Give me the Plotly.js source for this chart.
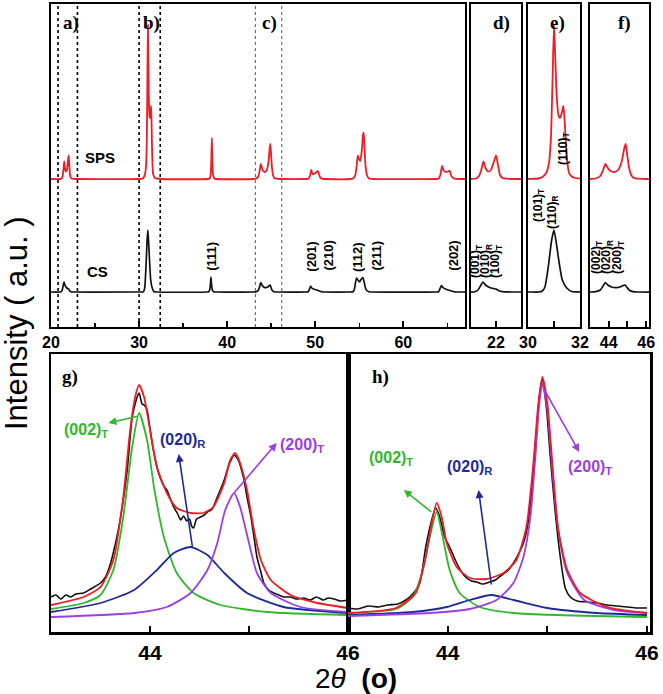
<!DOCTYPE html>
<html><head><meta charset="utf-8">
<script src="https://cdn.plot.ly/plotly-3.0.1.min.js"></script>
<style>html,body{margin:0;padding:0;background:#fff}</style>
</head><body>
<div id="plot" style="width:663px;height:694px"></div>
<script>
// ---------- Top panels: full-range XRD patterns (2theta in degrees, intensity a.u.) ----------
const spsX = [20,21,21.2,21.32,21.42,21.5,21.58,21.68,21.8,21.9,22,22.08,22.16,22.26,22.4,23,
  30,30.4,30.55,30.7,30.8,30.88,30.94,31,31.05,31.1,31.17,31.23,31.3,31.36,31.41,31.46,31.52,31.58,31.66,31.8,32,32.5,
  37.8,38,38.12,38.2,38.26,38.32,38.4,38.55,38.8,
  43,43.3,43.55,43.7,43.82,43.95,44.1,44.3,44.5,44.7,44.82,44.9,44.98,45.08,45.2,45.35,45.6,46,
  49,49.2,49.4,49.55,49.7,49.85,50.1,50.3,50.45,50.6,50.8,51.2,
  54,54.3,54.55,54.72,54.84,54.96,55.1,55.28,55.42,55.5,55.6,55.72,55.9,56.1,56.5,
  63.7,64,64.2,64.4,64.55,64.8,65.05,65.24,65.45,65.7,66,67];
const spsI = [0,0,0.5,3,10,17.5,11,7.5,9,16,23.5,14,4,1,0.3,0,
  0,0.5,2,6,15,40,95,154,120,85,64,61,66,73,58,35,15,6,3,1,0.5,0,
  0,0.5,4,18,41,18,4,0.5,0,
  0,0.5,3,9,15,11,8,7,9,18,30,35,25,12,4,1,0.3,0,
  0,0.3,3,9,5,5,6.5,8,4,1,0.2,0,
  0,0.5,4,15,23.5,20,18,28,44,46.5,30,12,3,0.5,0,
  0,0.3,4,13,9,7,7.5,8.3,3,0.8,0.2,0];

const csX = [20,21.15,21.28,21.4,21.48,21.58,21.7,21.8,21.92,22,22.1,22.25,22.6,
  30.2,30.4,30.55,30.65,30.78,30.91,31,31.1,31.2,31.32,31.49,31.68,32,
  37.7,37.9,38.02,38.1,38.16,38.22,38.32,38.45,38.7,
  43,43.3,43.55,43.7,43.82,43.95,44.15,44.4,44.6,44.78,44.87,44.98,45.12,45.3,45.6,
  49,49.2,49.35,49.48,49.6,49.8,50.1,50.4,50.7,51,
  54,54.3,54.45,54.58,54.7,54.85,55.03,55.2,55.4,55.55,55.7,55.85,56.1,56.5,
  63.7,64,64.15,64.32,64.5,64.8,65.1,65.45,65.8,66.2,67];
const csI = [0,0.2,2,7,10,7,5,4,3.3,3,1.5,0.3,0,
  0,0,1,5,25,52,62,47,29,12,4,0.5,0,
  0,0.3,2,8,15,8,2,0.3,0,
  0,0.3,2,6,9.4,7,5,4.3,5,6.5,7,4.5,1.5,0.3,0,
  0,0.3,3,6,4,3,2.2,1.2,0.3,0,
  0,0.3,3,10,14,12,10,12.5,14.5,10,4,1.5,0.3,0,
  0,0.3,3,6.3,4.3,3,2,1,0.2,0,0];

const csOffset = 35, spsOffset = 148;

// ---------- Bottom panels: peak fitting, 2theta 43-46 ----------
// g) CS
const gExpX = [43.0,43.05,43.1,43.15,43.2,43.25,43.33,43.4,43.5,43.55,43.6,43.65,43.68,43.72,43.77,43.82,43.85,43.87,43.89,43.92,43.94,43.97,43.99,44.02,44.04,44.07,44.1,44.14,44.17,44.21,44.24,44.28,44.31,44.34,44.37,44.4,44.42,44.44,44.47,44.51,44.55,44.58,44.62,44.64,44.68,44.71,44.75,44.78,44.81,44.85,44.88,44.9,44.93,44.95,44.98,45.02,45.05,45.08,45.12,45.15,45.2,45.25,45.3,45.35,45.42,45.48,45.55,45.62,45.68,45.75,45.8,45.86,45.92,46.0];
const gExpI = [35,37,33,37,35,38,39,43,49,55,68,88,102,125,162,215,228,235,239,228,227,222,210,190,179,165,155,146,142,132,125,118,112,116,111,113,106,104,113,115,117,120,122,125,135,142,152,162,170,177,174,170,160,152,135,115,95,75,60,49,42,39,37,35,35,33,34,32,35,32,34,33,31,32];
const gFitX = [43.0,43.33,43.5,43.63,43.73,43.8,43.85,43.89,43.94,44.0,44.07,44.17,44.27,44.41,44.54,44.64,44.75,44.81,44.86,44.91,44.98,45.05,45.12,45.22,45.42,45.69,46.0];
const gFitI = [27,35,45,72,135,202,235,247,235,202,165,139,124,119,119,125,149,172,179,169,142,102,72,52,37,29,24];
const g002X = [43.0,43.33,43.5,43.63,43.73,43.82,43.89,43.97,44.04,44.14,44.27,44.44,44.71,45.18,46.0];
const g002I = [23,29,37,62,115,185,219,192,145,95,59,39,27,20,17];
const g020X = [43.0,43.5,43.84,44.07,44.24,44.41,44.58,44.75,44.98,45.35,46.0];
const g020I = [20,29,42,62,79,85,77,59,39,25,19];
const g200X = [43.0,43.84,44.17,44.41,44.58,44.68,44.76,44.85,44.91,45.0,45.08,45.22,45.52,46.0];
const g200I = [15,19,25,39,62,89,122,139,125,89,59,39,25,20];

// h) SPS
const hExpX = [43.0,43.1,43.2,43.31,43.4,43.5,43.58,43.65,43.72,43.78,43.84,43.88,43.92,43.97,44.02,44.09,44.14,44.19,44.24,44.29,44.35,44.42,44.48,44.53,44.6,44.66,44.72,44.76,44.8,44.83,44.88,44.92,44.95,44.99,45.03,45.08,45.13,45.18,45.23,45.3,45.4,45.5,45.6,45.7,45.8,45.9,46.0];
const hExpI = [24,23,26,25,27,28,32,38,49,85,112,124,115,95,85,69,60,54,51,50,48,50,52,56,61,69,80,89,105,129,185,235,252,225,175,119,75,44,35,31,30,29,27,26,25,24,24];
const hFitX = [43.0,43.48,43.68,43.78,43.84,43.89,43.94,43.99,44.09,44.22,44.39,44.56,44.69,44.79,44.86,44.91,44.95,45.0,45.05,45.11,45.2,45.33,45.6,46.0];
const hFitI = [19,24,39,75,109,129,115,89,65,54,53,59,72,105,169,229,255,229,169,102,62,39,25,19];
const h002X = [43.0,43.48,43.65,43.75,43.82,43.89,43.95,44.02,44.12,44.32,44.66,46.0];
const h002I = [19,23,35,62,95,120,95,62,39,25,19,15];
const h020X = [43.0,43.65,43.99,44.22,44.44,44.66,45.0,45.5,46.0];
const h020I = [17,20,25,32,37,32,24,19,17];
const h200X = [43.0,43.82,44.22,44.49,44.66,44.76,44.83,44.88,44.92,44.95,45.0,45.05,45.11,45.2,45.37,45.67,46.0];
const h200I = [16,19,23,32,49,75,115,175,229,249,222,162,102,59,32,22,19];

// ---------- Tick labels ----------
const mainTicks = [20,30,40,50,60];
const dTicks = [22], dTickText = ['22'];
const eTicks = [30,31,32], eTickText = ['30','','32'];
const fTicks = [44,45,46], fTickText = ['44','','46'];
const ghTicks = [44,45,46], ghTickText = ['44','','46'];
const regionBounds = [[20.8,23.0],[30.0,32.4],[43.2,46.2]];

const RED = '#ee1c25', BLACK = '#111', GREEN = '#2fb82a', BLUE = '#1f2a9a', PURPLE = '#9a3ee6';
const traces = [];
function addIn(x, y, xa, ya, color, w, shape) {
  traces.push({x:x, y:y, xaxis:xa, yaxis:ya, type:'scatter', mode:'lines',
    line:{color:color, width:w, shape:shape||'spline', smoothing:0.6}, hoverinfo:'skip', showlegend:false});
}
[['x','y'],['x2','y2'],['x3','y3'],['x4','y4']].forEach(([xa,ya]) => {
  addIn(csX, csI.map(v=>v+csOffset), xa, ya, BLACK, 1.7);
  addIn(spsX, spsI.map(v=>v+spsOffset), xa, ya, RED, 1.8);
});
function addFit(xa, ya, d) {
  addIn(d.exX, d.exI, xa, ya, BLACK, 1.6);
  addIn(d.aX, d.aI, xa, ya, GREEN, 1.8);
  addIn(d.bX, d.bI, xa, ya, BLUE, 1.8);
  addIn(d.cX, d.cI, xa, ya, PURPLE, 1.8);
  addIn(d.fX, d.fI, xa, ya, RED, 1.8);
}
addFit('x5','y5',{exX:gExpX,exI:gExpI,aX:g002X,aI:g002I,bX:g020X,bI:g020I,cX:g200X,cI:g200I,fX:gFitX,fI:gFitI});
addFit('x6','y6',{exX:hExpX,exI:hExpI,aX:h002X,aI:h002I,bX:h020X,bI:h020I,cX:h200X,cI:h200I,fX:hFitX,fI:hFitI});

const W = 663, H = 694;
const px = (a,b) => [a/W, b/W];
const topDom = [1-327/H, 1-4/H];
const botDom = [1-632/H, 1-354/H];
const tickFontTop = {family:'Liberation Sans, Arial, sans-serif', size:16, color:'#000', weight:'bold'};
const tickFontBot = {family:'Liberation Sans, Arial, sans-serif', size:21, color:'#000', weight:'bold'};

function xax(domain, range, extra, font, anchor, lw) {
  return Object.assign({domain:domain, range:range, anchor:anchor, showline:true, mirror:true, linewidth:lw||2, linecolor:'#000',
    showgrid:false, zeroline:false, ticks:'inside', ticklen:6, tickwidth:2, tickcolor:'#000', tickfont:font, fixedrange:true}, extra);
}
function yax(domain, range, anchor, lw) {
  return {domain:domain, range:range, anchor:anchor, showline:true, mirror:true, linewidth:lw||2, linecolor:'#000',
    showgrid:false, zeroline:false, showticklabels:false, ticks:'', fixedrange:true};
}

const layout = {
  width:W, height:H, autosize:false, margin:{l:0,r:0,t:0,b:0},
  paper_bgcolor:'#fff', plot_bgcolor:'#fff', showlegend:false,
  xaxis: xax(px(51,465), [20,67], {tickmode:'array', tickvals:mainTicks,
         minor:{dtick:5, tick0:20, ticks:'inside', ticklen:4, tickwidth:1.5, tickcolor:'#000'}}, tickFontTop, 'y'),
  yaxis: yax(topDom, [0,323], 'x'),
  xaxis2: xax(px(471,521), [21,23], {tickmode:'array', tickvals:dTicks, ticktext:dTickText}, tickFontTop, 'y2'),
  yaxis2: yax(topDom, [0,323], 'x2'),
  xaxis3: xax(px(528,580), [30,32], {tickmode:'array', tickvals:eTicks, ticktext:eTickText}, tickFontTop, 'y3'),
  yaxis3: yax(topDom, [0,323], 'x3'),
  xaxis4: xax(px(590,649), [43,46.15], {tickmode:'array', tickvals:fTicks, ticktext:fTickText}, tickFontTop, 'y4'),
  yaxis4: yax(topDom, [0,323], 'x4'),
  xaxis5: xax(px(51,348), [43,46], {tickmode:'array', tickvals:ghTicks, ticktext:ghTickText}, tickFontBot, 'y5', 2.5),
  yaxis5: yax(botDom, [0,278], 'x5', 2.5),
  xaxis6: xax(px(348,650), [43,46.03], {tickmode:'array', tickvals:ghTicks, ticktext:ghTickText}, tickFontBot, 'y6', 2.5),
  yaxis6: yax(botDom, [0,278], 'x6', 2.5),
  shapes: [], annotations: []
};

// region marker lines
regionBounds.forEach((b, i) => b.forEach(v => layout.shapes.push({type:'line', xref:'x', yref:'y domain', x0:v, x1:v, y0:0, y1:1,
  line:{color: i<2 ? '#000' : '#555', width: i<2 ? 1.6 : 1, dash:'dot'}, layer:'below'})));

const A = layout.annotations;
function txt(t, x, y, xr, yr, font, extra) {
  A.push(Object.assign({text:t, x:x, y:y, xref:xr, yref:yr, showarrow:false, xanchor:'center', yanchor:'middle', font:font}, extra||{}));
}
const serif = {family:'Liberation Serif, Times New Roman, serif', size:19, color:'#000', weight:'bold'};
txt('a)', 22.27, 304, 'x', 'y', serif);
txt('b)', 31.45, 304, 'x', 'y', serif);
txt('c)', 44.83, 304, 'x', 'y', serif);
txt('d)', 22.2, 304, 'x2', 'y2', serif);
txt('e)', 31.15, 304, 'x3', 'y3', serif);
txt('f)', 44.82, 304, 'x4', 'y4', serif);
txt('g)', 43.19, 255, 'x5', 'y5', serif);
txt('h)', 43.33, 255, 'x6', 'y6', serif);

const sansB = (s,c) => ({family:'Liberation Sans, Arial, sans-serif', size:s, color:c||'#000', weight:'bold'});
txt('SPS', 25.55, 170, 'x', 'y', sansB(15));
txt('CS', 25.3, 56, 'x', 'y', sansB(15));
const rot = {textangle:-90};
[['(111)',38.14,71],['(201)',49.48,70],['(210)',51.4,71],['(112)',54.75,70],['(211)',56.85,71],['(202)',65.6,71]]
  .forEach(([t,x,y]) => txt(t, x, y, 'x', 'y', sansB(13), rot));
[['(001)<sub>T</sub>',21.2,66],['(010)<sub>R</sub>',21.6,66],['(100)<sub>T</sub>',22.0,66]]
  .forEach(([t,x,y]) => txt(t, x, y, 'x2', 'y2', sansB(12), rot));
[['(101)<sub>T</sub>',30.42,122],['(110)<sub>R</sub>',30.96,115],['(110)<sub>T</sub>',31.38,179]]
  .forEach(([t,x,y]) => txt(t, x, y, 'x3', 'y3', sansB(12), rot));
[['(002)<sub>T</sub>',43.37,70],['(020)<sub>R</sub>',43.91,70],['(200)<sub>T</sub>',44.5,70]]
  .forEach(([t,x,y]) => txt(t, x, y, 'x4', 'y4', sansB(12), rot));

// g/h labels and arrows
function arrow(xa, ya, hx, hy, tx, ty, color) {
  A.push({text:'', x:hx, y:hy, ax:tx, ay:ty, xref:xa, yref:ya, axref:xa, ayref:ya, showarrow:true,
    arrowhead:2, arrowsize:1, arrowwidth:1.6, arrowcolor:color, standoff:0, startstandoff:0});
}
txt('(002)<sub>T</sub>', 43.35, 201, 'x5', 'y5', sansB(16, GREEN));
txt('(020)<sub>R</sub>', 44.33, 191, 'x5', 'y5', sansB(16, BLUE));
txt('(200)<sub>T</sub>', 45.54, 186, 'x5', 'y5', sansB(16, PURPLE));
arrow('x5','y5', 43.58, 209, 43.89, 216, GREEN);
arrow('x5','y5', 44.29, 178, 44.43, 84, BLUE);
arrow('x5','y5', 45.28, 189, 44.84, 138, PURPLE);
txt('(002)<sub>T</sub>', 43.43, 173, 'x6', 'y6', sansB(16, GREEN));
txt('(020)<sub>R</sub>', 44.22, 164, 'x6', 'y6', sansB(16, BLUE));
txt('(200)<sub>T</sub>', 45.43, 164, 'x6', 'y6', sansB(16, PURPLE));
arrow('x6','y6', 43.56, 142, 43.85, 119, GREEN);
arrow('x6','y6', 44.31, 142, 44.44, 46, BLUE);
arrow('x6','y6', 45.32, 180, 44.96, 244, PURPLE);

// axis titles
txt('Intensity ( a.u. )', 16/W, 1-323/H, 'paper', 'paper', {family:'Liberation Sans, Arial, sans-serif', size:31, color:'#000'}, rot);
txt('2<i>θ</i>  <b>(o)</b>', 356/W, 1-678/H, 'paper', 'paper', {family:'Liberation Sans, Arial, sans-serif', size:28, color:'#000'});

Plotly.newPlot('plot', traces, layout, {staticPlot:true, displayModeBar:false});
</script>
</body></html>
